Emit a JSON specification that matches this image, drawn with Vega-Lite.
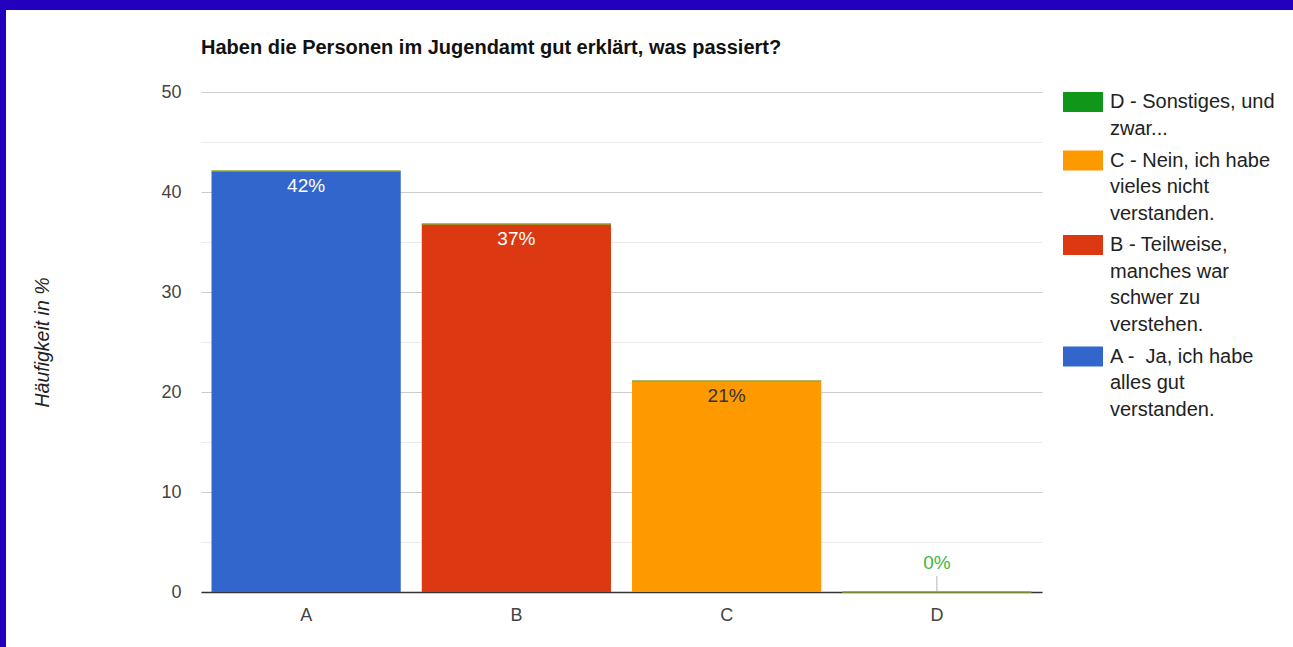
{
  "$schema": "https://vega.github.io/schema/vega-lite/v6.json",
  "background": "white",
  "padding": 0,
  "align": "none",
  "spacing": -82,
  "bounds": "full",
  "resolve": {"legend": {"color": "independent"}},
  "vconcat": [
    {
      "align": "none",
      "spacing": 0,
      "bounds": "full",
      "hconcat": [
        {
          "width": 6,
          "height": 92,
          "view": {"fill": "#2300be", "stroke": null},
          "data": {"values": [{}]},
          "mark": {"type": "point", "opacity": 0},
          "encoding": {}
        },
        {
          "width": 1287,
          "height": 10,
          "view": {"fill": "#2300be", "stroke": null},
          "data": {"values": [{}]},
          "mark": {"type": "point", "opacity": 0},
          "encoding": {}
        }
      ]
    },
    {
      "align": "none",
      "spacing": 26,
      "bounds": "full",
      "resolve": {"legend": {"color": "independent"}},
      "hconcat": [
        {
          "width": 6,
          "height": 555,
          "view": {"fill": "#2300be", "stroke": null},
          "data": {"values": [{}]},
          "mark": {"type": "point", "opacity": 0},
          "encoding": {}
        },
        {
          "width": 841,
          "height": 500,
          "title": {
            "text": ["", "Haben die Personen im Jugendamt gut erklärt, was passiert?"],
            "anchor": "start",
            "frame": "group",
            "font": "Liberation Sans",
            "fontSize": 20,
            "lineHeight": 28,
            "fontWeight": "bold",
            "color": "#111111",
            "offset": 25
          },
          "data": {
            "values": [
              {"cat": "A", "series": "A - \u00a0Ja, ich habe|alles gut|verstanden.", "value": 42.1, "label": "42%"},
              {"cat": "B", "series": "B - Teilweise,|manches war|schwer zu|verstehen.", "value": 36.8, "label": "37%"},
              {"cat": "C", "series": "C - Nein, ich habe|vieles nicht|verstanden.", "value": 21.1, "label": "21%"},
              {"cat": "D", "series": "D - Sonstiges, und|zwar...", "value": 0, "label": "0%"}
            ]
          },
          "encoding": {
            "x": {
              "field": "cat",
              "type": "nominal",
              "scale": {"paddingInner": 0.1, "paddingOuter": 0.05},
              "axis": {
                "title": null,
                "labelAngle": 0,
                "labelFont": "Liberation Sans",
                "labelFontSize": 18,
                "labelColor": "#444444",
                "labelPadding": 14,
                "ticks": false,
                "domainColor": "#333333",
                "domainWidth": 1.5
              }
            },
            "y": {
              "field": "value",
              "type": "quantitative",
              "scale": {"domain": [0, 50]},
              "axis": {
                "title": "Häufigkeit in %",
                "titleFont": "Liberation Sans",
                "titleFontSize": 19.5,
                "titleFontStyle": "italic",
                "titleFontWeight": "normal",
                "titleColor": "#222222",
                "titlePadding": 108,
                "values": [0, 5, 10, 15, 20, 25, 30, 35, 40, 45, 50],
                "labelExpr": "datum.value % 10 === 0 ? datum.label : ''",
                "labelFont": "Liberation Sans",
                "labelFontSize": 18,
                "labelColor": "#444444",
                "labelPadding": 20,
                "ticks": false,
                "domain": false,
                "gridColor": {"condition": {"test": "datum.value % 10 === 0", "value": "#cccccc"}, "value": "#ebebeb"}
              }
            }
          },
          "layer": [
            {
              "mark": {"type": "bar"},
              "encoding": {
                "color": {
                  "field": "series",
                  "type": "nominal",
                  "scale": {
                    "domain": ["D - Sonstiges, und|zwar...", "C - Nein, ich habe|vieles nicht|verstanden.", "B - Teilweise,|manches war|schwer zu|verstehen.", "A - \u00a0Ja, ich habe|alles gut|verstanden."],
                    "range": ["#109618", "#ff9900", "#dc3912", "#3366cc"]
                  },
                  "legend": {
                    "title": null,
                    "orient": "right",
                    "offset": 21,
                    "labelExpr": "split(datum.label, '|')",
                    "labelFont": "Liberation Sans",
                    "labelFontSize": 20,
                    "labelColor": "#222222",
                    "labelLimit": 400,
                    "labelOffset": 15,
                    "labelBaseline": "alphabetic",
                    "symbolType": "M-1,-1H1.5V0.25H-1Z",
                    "symbolSize": 1024,
                    "symbolStrokeWidth": 0,
                    "symbolOpacity": 1,
                    "rowPadding": 11.5
                  }
                }
              }
            },
            {
              "mark": {"type": "bar", "fill": null, "stroke": "#8fa832", "strokeWidth": 1.5},
              "encoding": {"y2": {"field": "value"}}
            },
            {
              "transform": [{"filter": "datum.cat !== 'D'"}],
              "mark": {"type": "text", "baseline": "top", "dy": 6, "font": "Liberation Sans", "fontSize": 19},
              "encoding": {
                "text": {"field": "label"},
                "color": {"condition": {"test": "datum.cat === 'C'", "value": "#333333"}, "value": "#ffffff"}
              }
            },
            {
              "transform": [{"filter": "datum.cat === 'D'"}],
              "mark": {"type": "text", "baseline": "bottom", "dy": -19, "font": "Liberation Sans", "fontSize": 19, "color": "#3db83d"},
              "encoding": {"text": {"field": "label"}}
            },
            {
              "transform": [{"filter": "datum.cat === 'D'"}],
              "mark": {"type": "tick", "orient": "vertical", "size": 16, "thickness": 1, "yOffset": -8, "color": "#999999"},
              "encoding": {}
            }
          ]
        }
      ]
    }
  ],
  "config": {
    "view": {"stroke": null},
    "style": {"guide-label": {"lineHeight": 26.5}}
  }
}
